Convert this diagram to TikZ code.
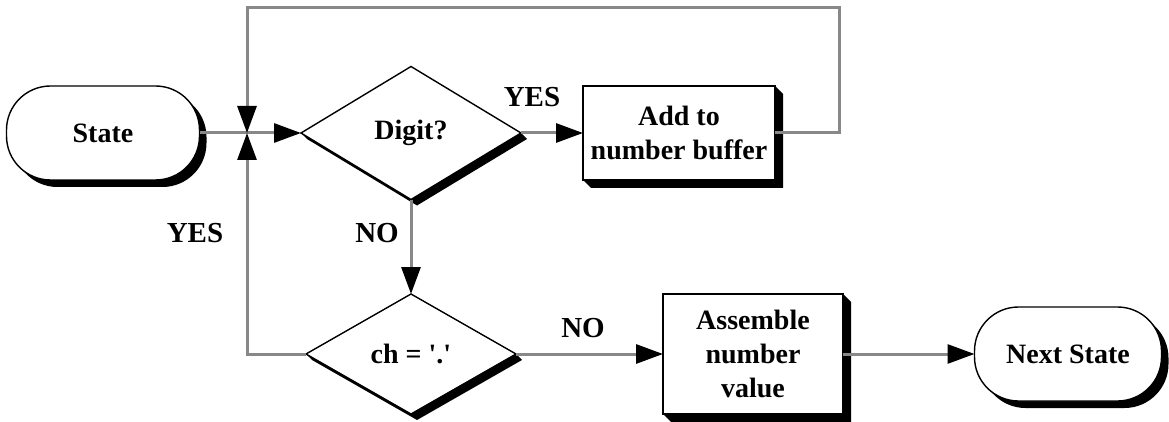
\documentclass[tikz,border=0pt]{standalone}
\usepackage{fontspec}
\setmainfont{Liberation Serif}
\usetikzlibrary{shapes.geometric,arrows.meta,shadows,calc}
\pgfdeclarelayer{bg}
\pgfsetlayers{bg,main}
\definecolor{wire}{HTML}{888888}
\begin{document}
\begin{tikzpicture}[x=1pt,y=-1pt,
  every node/.style={font=\fontsize{28}{34}\selectfont\bfseries},
  term/.style={rectangle,draw=black,line width=1.4pt,fill=white,rounded corners=44pt,
    minimum height=94pt,inner sep=0pt,outer sep=0pt,
    drop shadow={shadow xshift=7pt,shadow yshift=-7pt,fill=black,opacity=1}},
  decision/.style={diamond,draw=black,line width=1.4pt,fill=white,inner sep=0pt,outer sep=0pt},
  proc/.style={rectangle,draw=black,line width=1.4pt,fill=white,inner sep=0pt,outer sep=0pt,align=center},
  lbl/.style={font=\fontsize{29}{34}\selectfont\bfseries},
  conn/.style={draw=wire,line width=3pt},
  arr/.style={conn,-{Triangle[length=27pt,width=19pt,color=black,fill=black]}},
  shade/.style={fill=black}]
\useasboundingbox (0,0) rectangle (1169,422);

% blocks
\node[term,minimum width=193pt] (state) at (103,133) {State};
\node[decision,minimum width=220pt,minimum height=133pt] (dig) at (411,133) {Digit?};
\node[proc,minimum width=192pt,minimum height=94pt] (add) at (679,133) {Add to\\number buffer};
\node[decision,minimum width=210pt,minimum height=120pt] (ch) at (411,354) {ch = \textquotesingle.\textquotesingle};
\node[proc,minimum width=180pt,minimum height=120pt] (asm) at (753,354) {Assemble\\number\\value};
\node[term,minimum width=187pt] (next) at (1068,354) {Next State};

% extruded shadows
\begin{pgfonlayer}{bg}
  \fill[shade] (dig.north) -- (dig.east) -- ($(dig.east)+(6,6)$) -- ($(dig.south)+(6,6)$)
    -- ($(dig.west)+(6,6)$) -- (dig.west) -- cycle;
  \fill[shade] (ch.north) -- (ch.east) -- ($(ch.east)+(6,6)$) -- ($(ch.south)+(6,6)$)
    -- ($(ch.west)+(6,6)$) -- (ch.west) -- cycle;
  \fill[shade] (add.north east) -- ($(add.north east)+(8,8)$) -- ($(add.south east)+(8,8)$)
    -- ($(add.south west)+(8,8)$) -- (add.south west) -- cycle;
  \fill[shade] (asm.north east) -- ($(asm.north east)+(8,8)$) -- ($(asm.south east)+(8,8)$)
    -- ($(asm.south west)+(8,8)$) -- (asm.south west) -- cycle;
\end{pgfonlayer}

% junction and loop corner
\coordinate (j) at (247,133);
\coordinate (lt) at (839,8);

% connectors
\draw[arr] (state.east) -- (dig.west);
\draw[arr] (dig.east) -- (add.west);
\draw[arr] (add.east) -| (lt) -| (j);
\draw[arr] (dig.south) -- (ch.north);
\draw[arr] (ch.west) -| (j);
\draw[arr] (ch.east) -- (asm.west);
\draw[arr] (asm.east) -- (next.west);

% branch labels
\node[lbl] (ly1) at (532,97) {YES};
\node[lbl] (ln1) at (377,233) {NO};
\node[lbl] (ly2) at (195,233) {YES};
\node[lbl] (ln2) at (583,328) {NO};
\end{tikzpicture}
\end{document}
